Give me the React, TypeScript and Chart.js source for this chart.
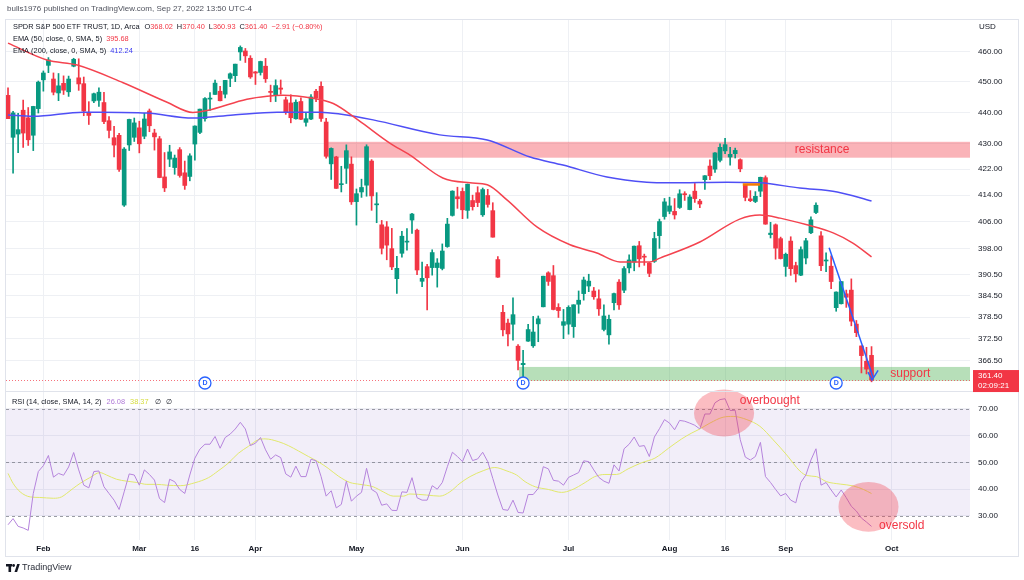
import React, { useEffect, useRef } from 'react';
import { Chart, registerables } from 'chart.js';
Chart.register(...registerables);

// ---- data (SPY daily, Jan 21 – Sep 27, 2022; index = trading-day number) ----
const DATES = [
  'Jan21','Jan24','Jan25','Jan26','Jan27','Jan28','Jan31','Feb1','Feb2','Feb3','Feb4','Feb7','Feb8','Feb9','Feb10','Feb11','Feb14','Feb15','Feb16','Feb17','Feb18','Feb22','Feb23','Feb24','Feb25','Feb28',
  'Mar1','Mar2','Mar3','Mar4','Mar7','Mar8','Mar9','Mar10','Mar11','Mar14','Mar15','Mar16','Mar17','Mar18','Mar21','Mar22','Mar23','Mar24','Mar25','Mar28','Mar29','Mar30','Mar31',
  'Apr1','Apr4','Apr5','Apr6','Apr7','Apr8','Apr11','Apr12','Apr13','Apr14','Apr18','Apr19','Apr20','Apr21','Apr22','Apr25','Apr26','Apr27','Apr28','Apr29',
  'May2','May3','May4','May5','May6','May9','May10','May11','May12','May13','May16','May17','May18','May19','May20','May23','May24','May25','May26','May27','May31',
  'Jun1','Jun2','Jun3','Jun6','Jun7','Jun8','Jun9','Jun10','Jun13','Jun14','Jun15','Jun16','Jun17','Jun21','Jun22','Jun23','Jun24','Jun27','Jun28','Jun29','Jun30',
  'Jul1','Jul5','Jul6','Jul7','Jul8','Jul11','Jul12','Jul13','Jul14','Jul15','Jul18','Jul19','Jul20','Jul21','Jul22','Jul25','Jul26','Jul27','Jul28','Jul29',
  'Aug1','Aug2','Aug3','Aug4','Aug5','Aug8','Aug9','Aug10','Aug11','Aug12','Aug15','Aug16','Aug17','Aug18','Aug19','Aug22','Aug23','Aug24','Aug25','Aug26','Aug29','Aug30','Aug31',
  'Sep1','Sep2','Sep6','Sep7','Sep8','Sep9','Sep12','Sep13','Sep14','Sep15','Sep16','Sep19','Sep20','Sep21','Sep22','Sep23','Sep26','Sep27'
];
const OPEN = [
  445.56,432.03,433.06,440.72,438.26,432.68,441.24,450.68,455.50,450.95,446.35,449.51,446.73,455.22,451.34,449.41,439.92,443.73,443.93,443.22,437.33,431.89,432.66,411.02,429.61,432.03,
  435.04,432.37,440.47,433.40,431.55,419.62,425.14,422.52,428.12,420.89,419.77,429.89,433.59,438.00,444.34,445.86,446.91,445.94,451.16,452.06,460.02,460.34,457.89,
  453.31,453.13,455.22,446.89,445.59,447.97,444.11,443.08,437.96,443.55,436.81,437.86,446.92,448.54,436.91,423.67,425.83,417.24,422.29,423.59,
  412.07,415.01,417.08,424.55,411.10,405.10,404.49,398.07,389.37,396.71,399.98,406.53,403.50,388.62,392.83,392.56,392.56,392.31,398.67,407.91,413.55,
  415.17,409.42,412.40,414.78,408.10,413.93,409.34,394.88,379.85,376.85,376.54,370.51,365.51,371.89,370.62,376.64,381.40,391.05,390.23,381.23,376.24,
  376.56,375.88,382.11,385.12,387.27,385.85,383.65,375.10,373.61,382.55,388.38,386.08,392.47,394.16,398.92,395.75,393.84,394.36,401.89,407.58,
  409.15,409.12,410.30,414.37,409.66,415.25,412.22,418.78,422.99,422.03,424.77,427.73,425.80,426.86,424.98,417.05,412.90,412.11,415.24,419.39,402.20,405.11,401.00,
  392.89,400.28,393.13,390.37,395.33,402.74,408.78,401.83,394.47,392.96,381.16,382.26,385.06,386.11,376.58,370.58,366.41,368.02
];
const HIGH = [
  448.06,440.38,439.72,444.04,441.59,442.00,450.28,453.63,458.12,452.97,452.78,451.99,451.92,457.88,457.71,451.61,443.50,446.28,448.06,446.57,438.66,435.50,433.26,428.76,437.84,438.20,
  437.17,439.72,441.11,434.60,432.30,427.21,429.51,426.43,428.77,424.55,426.84,435.68,441.07,444.86,446.46,450.58,448.49,450.50,452.98,455.91,462.07,461.20,458.76,
  453.46,456.91,457.83,448.93,450.69,450.63,445.00,445.75,444.11,444.73,439.75,445.80,447.57,450.01,438.08,428.69,426.04,422.92,429.64,425.87,
  415.92,418.93,429.66,425.00,414.80,406.41,406.08,404.04,395.80,403.18,403.97,408.57,403.80,394.14,393.51,397.73,395.15,399.45,407.04,415.38,416.46,
  416.24,417.44,414.04,416.61,416.22,415.82,411.74,395.78,381.81,377.94,383.90,370.94,369.38,376.53,378.72,378.83,390.09,391.36,393.16,382.27,380.66,
  381.70,381.98,385.87,389.83,390.64,386.87,386.16,381.92,379.05,385.25,389.09,392.87,396.26,398.84,400.18,396.47,394.06,402.88,406.80,413.03,
  413.41,413.00,415.68,415.09,414.15,417.62,412.75,420.00,424.95,427.21,429.97,431.73,428.82,428.61,425.26,417.10,415.42,415.11,419.56,419.96,405.84,405.37,401.46,
  396.78,401.56,394.12,398.59,401.07,407.51,411.73,403.10,396.83,395.96,385.62,388.55,386.12,389.31,377.58,370.62,370.21,370.40
];
const LOW = [
  437.95,420.76,427.15,428.86,429.45,427.82,439.81,446.94,453.05,445.71,443.83,445.85,445.22,455.01,447.20,438.94,436.12,443.18,441.94,436.42,431.82,425.86,421.35,410.64,427.86,430.70,
  427.11,431.57,433.80,427.98,419.36,415.12,422.82,420.44,419.53,415.79,418.42,424.80,433.19,437.22,440.68,445.86,443.71,444.76,448.43,450.06,457.18,456.47,451.16,
  449.14,452.26,449.82,443.47,443.53,445.94,439.39,436.65,437.84,437.68,435.61,437.68,443.48,437.10,425.44,418.84,416.07,415.01,417.60,411.21,
  405.02,413.36,413.71,409.44,405.73,396.50,394.82,391.96,385.15,395.61,397.60,402.58,390.55,387.11,380.54,390.38,386.96,391.89,398.45,407.70,410.03,
  406.93,407.04,409.51,410.55,407.61,410.38,401.44,389.75,373.30,370.59,372.12,364.08,362.17,371.81,370.18,371.73,381.37,387.44,380.53,378.42,372.56,
  373.80,372.90,379.60,383.27,385.66,383.50,378.99,374.66,371.04,380.54,380.66,385.39,391.03,391.63,392.75,393.21,389.95,394.05,398.15,406.77,
  408.40,406.82,410.00,412.44,409.60,411.83,410.22,415.81,418.78,421.03,424.27,426.87,423.25,425.50,421.22,412.31,412.06,411.77,413.60,405.25,401.20,394.99,395.04,
  390.04,390.33,388.42,390.20,393.59,402.46,408.46,391.67,391.41,386.54,380.15,382.18,381.24,376.10,373.11,363.29,363.03,360.93
];
const CLOSE = [
  437.98,439.84,434.47,433.38,431.24,441.95,449.91,452.95,457.35,446.60,448.70,447.26,450.94,457.54,449.32,440.46,439.02,446.10,446.60,437.06,434.23,429.57,421.95,428.30,437.75,436.63,
  429.98,437.89,435.71,432.17,419.43,416.25,427.41,425.48,420.07,417.00,426.17,435.62,441.07,444.52,444.39,449.59,443.80,450.49,452.69,455.91,461.55,458.70,451.64,
  452.92,456.80,451.03,446.52,448.77,447.57,439.92,438.29,443.31,437.79,437.97,445.04,444.71,438.06,426.04,428.51,416.10,417.27,427.81,412.00,
  414.48,416.38,429.06,413.81,411.34,398.17,399.09,392.75,392.34,401.72,400.09,408.32,391.86,389.46,389.63,396.92,393.89,397.37,405.31,415.26,412.93,
  409.59,417.39,410.54,411.79,415.74,411.22,401.44,389.80,375.00,373.87,379.20,366.65,365.86,375.07,374.39,378.06,390.08,388.59,380.65,380.34,377.25,
  381.24,381.96,383.25,388.99,388.67,384.23,380.83,378.83,377.91,385.13,381.95,392.27,394.77,398.79,395.09,395.57,390.89,401.04,406.07,411.99,
  410.77,408.06,414.45,414.17,413.47,412.99,411.35,419.99,419.99,427.10,428.86,429.70,426.65,427.89,422.14,413.35,412.35,413.67,419.51,405.31,402.63,398.21,395.18,
  396.42,392.24,390.76,397.78,400.38,406.60,410.97,393.10,394.69,388.55,385.56,388.55,384.09,377.39,374.22,367.95,364.31,361.40
];
// EMA lines at sample bars
const EMA50_IDX = [0,7.7,13.7,22.8,31.5,36.6,39.4,47.3,51.3,54.5,60.4,64.4,69.3,75.6,79.6,86.1,91.5,94.9,98.8,104.8,111.3,116.6,121.2,127.1,129.1,137,144.9,148.9,152.9,158.2,163.4,167.3,171];
const EMA50_VAL = [463.0,457.3,455.6,449.7,443.3,440.0,440.6,444.3,445.3,445.6,444.6,442.9,437.6,430.2,426.4,419.3,417.8,417.2,412.6,404.4,399.2,396.8,394.2,394.2,395.3,400.0,406.8,408.0,407.1,405.1,402.7,399.7,395.68];
const EMA200_IDX = [0,5,14.9,18.2,27.5,36.6,44.6,53.3,61.8,65.7,72.3,85.5,94.9,103.4,109.9,118.6,126.5,131.1,142.4,148.9,156.8,164.2,171];
const EMA200_VAL = [439.2,438.8,440.1,440.1,439.8,438.2,439.2,440.1,440.1,439.5,437.6,432.8,431.2,425.8,423.3,419.6,418.0,417.8,418.0,417.8,416.2,415.0,412.24];
// RSI (14) per bar
const RSI = [
  26.7,29.0,26.1,25.5,24.6,38.4,46.6,48.8,52.6,44.5,45.9,45.2,48.3,53.7,47.2,41.5,40.5,46.6,46.8,40.9,38.4,35.9,32.4,39.0,45.7,45.3,
  41.5,47.2,45.5,43.4,36.5,35.0,43.7,42.8,39.9,38.4,45.3,51.6,55.0,56.8,56.8,59.7,55.3,59.3,60.6,62.5,65.0,62.5,56.3,
  57.2,59.3,54.7,51.2,52.8,51.8,45.7,44.5,48.6,44.7,44.7,51.2,50.6,44.7,37.4,39.4,33.0,34.3,43.0,35.5,
  37.4,38.8,47.8,39.9,38.7,34.0,34.5,32.1,32.0,39.0,38.8,44.3,36.8,35.9,35.9,41.3,40.0,42.5,48.4,53.8,52.2,
  50.3,55.0,50.7,51.3,53.8,50.3,44.0,37.8,32.4,32.1,35.9,31.3,31.1,38.0,38.0,40.3,48.4,47.6,43.3,43.0,41.5,
  44.4,45.3,46.2,50.6,50.3,47.2,44.4,43.0,42.2,49.1,46.8,55.1,56.8,59.5,56.0,56.3,52.2,59.5,62.6,66.0,
  64.7,62.2,65.7,65.4,64.7,63.9,62.5,68.1,68.1,72.3,73.5,73.8,69.4,69.5,58.5,52.0,50.9,52.2,57.5,44.7,42.5,39.9,37.5,
  38.4,35.9,34.9,42.5,45.3,50.9,55.1,41.5,42.5,39.7,37.1,39.7,36.8,33.6,31.8,29.2,27.7,26.08
];
// RSI-based SMA at sample bars
const RSI_MA_IDX = [0,1,2.4,4.4,6.3,9,10.6,11.6,12.9,14.3,16.2,18.2,19.5,21.5,23.5,25.5,27.5,29.4,31.4,34.1,37,39.7,41.6,43.6,45.6,47.6,49.6,50.9,53.5,55.5,57.5,59.5,61.4,63.4,65.4,67.7,69.7,72.3,74.3,76.3,78.3,79.6,82.9,85.5,87.5,89.5,91.5,94.1,96.4,98.8,100.7,102.4,104.4,107,109.6,111.6,114.3,116.2,118.2,120.5,122.8,125.5,128.1,130.8,133.4,135.4,137,139,141.6,143.6,146.3,148.9,151.5,154.2,156.8,158.2,160.1,162.1,164.8,167.4,169.4,171];
const RSI_MA_VAL = [45.9,42.2,39.0,37.1,36.9,36.6,37.1,38.4,40.3,42.2,44.3,46.2,45.3,43.7,43.0,42.5,41.8,41.8,41.5,41.3,42.4,44.3,46.8,49.7,53.4,56.0,58.5,58.8,57.8,56.3,54.3,52.2,50.3,47.8,44.9,42.5,41.8,40.9,39.0,37.4,37.4,38.2,37.8,37.4,39.0,42.2,44.7,46.9,48.1,46.8,45.3,42.8,40.9,39.9,38.8,39.7,42.5,44.7,45.5,45.5,47.6,49.9,51.6,55.3,58.8,61.0,62.5,64.7,66.9,67.2,66.0,63.5,58.5,52.8,46.8,45.1,44.7,42.8,41.9,41.2,39.9,38.37];

const PRICE_TICKS = [460, 450, 440, 430, 422, 414, 406, 398, 390.5, 384.5, 378.5, 372.5, 366.5];
const RSI_TICKS = [70, 60, 50, 40, 30];
const X_TICK_POS = [7, 26, 37, 49, 69, 90, 111, 131, 142, 154, 175];
const X_TICK_LABELS = ['Feb', 'Mar', '16', 'Apr', 'May', 'Jun', 'Jul', 'Aug', '16', 'Sep', 'Oct'];
const DIVIDEND_IDX = [39, 102, 164];
const RESISTANCE = { from: 63.3, low: 425.6, high: 430.6, labelAt: 155.8 };
const SUPPORT = { from: 101.2, low: 361.2, high: 364.9, labelAt: 174.7 };
const TREND = [[162.6, 398.3], [171.3, 362.2]];
const CHECK = [[170.3, 363.5], [171.1, 361.4], [172.3, 364.0]];
const ORANGE = { from: 145.5, to: 148.9, price: 417.3 };
const OB = { idx: 141.8, rsi: 68.5, rx: 5.95, ry: 8.8, labelIdx: 144.9, labelRsi: 73.0 };
const OS = { idx: 170.4, rsi: 33.4, rx: 5.95, ry: 9.3, labelIdx: 172.5, labelRsi: 26.3 };
const LAST = 361.40;

const UP = '#089981';
const DOWN = '#f23645';
const GRID = '#eef0f4';
const TXT = '#131722';
const FONT = "'Liberation Sans', Arial, sans-serif";

function segs(ctx: CanvasRenderingContext2D, x: number, y: number, parts: [string, string, number?][]) {
  let cx = x;
  for (const [t, c, gap] of parts) {
    ctx.fillStyle = c;
    ctx.fillText(t, cx, y);
    cx += ctx.measureText(t).width + (gap ?? 0);
  }
}

const overlay = {
  id: 'overlay',
  beforeDatasetsDraw(chart: any) {
    const { ctx, chartArea: ca, scales } = chart;
    const x = scales.x, y = scales.y, r = scales.y2;
    ctx.save();
    const y70 = r.getPixelForValue(70), y30 = r.getPixelForValue(30);
    ctx.fillStyle = 'rgba(126,87,194,0.1)';
    ctx.fillRect(ca.left, y70, ca.right - ca.left, y30 - y70);
    ctx.setLineDash([3, 3]);
    ctx.strokeStyle = 'rgba(120,123,134,0.75)';
    ctx.lineWidth = 1;
    for (const v of [70, 50, 30]) {
      const py = Math.round(r.getPixelForValue(v)) + 0.5;
      ctx.beginPath(); ctx.moveTo(ca.left, py); ctx.lineTo(ca.right, py); ctx.stroke();
    }
    ctx.setLineDash([]);
    const rx0 = x.getPixelForValue(RESISTANCE.from);
    const rt = y.getPixelForValue(RESISTANCE.high), rb = y.getPixelForValue(RESISTANCE.low);
    ctx.fillStyle = 'rgba(242,54,69,0.38)';
    ctx.fillRect(rx0, rt, ca.right - rx0, rb - rt);
    const sx0 = x.getPixelForValue(SUPPORT.from);
    const st = y.getPixelForValue(SUPPORT.high), sb = y.getPixelForValue(SUPPORT.low);
    ctx.fillStyle = 'rgba(76,175,80,0.4)';
    ctx.fillRect(sx0, st, ca.right - sx0, sb - st);
    const ly = Math.round(y.getPixelForValue(LAST)) + 0.5;
    ctx.setLineDash([1, 2]);
    ctx.strokeStyle = 'rgba(242,54,69,0.7)';
    ctx.beginPath(); ctx.moveTo(ca.left, ly); ctx.lineTo(ca.right, ly); ctx.stroke();
    ctx.setLineDash([]);
    ctx.restore();
  },
  afterDatasetsDraw(chart: any) {
    const { ctx, scales } = chart;
    const x = scales.x, y = scales.y, r = scales.y2;
    ctx.save();
    ctx.strokeStyle = '#f57c00';
    ctx.lineWidth = 2.5;
    ctx.beginPath();
    ctx.moveTo(x.getPixelForValue(ORANGE.from), y.getPixelForValue(ORANGE.price));
    ctx.lineTo(x.getPixelForValue(ORANGE.to), y.getPixelForValue(ORANGE.price));
    ctx.stroke();
    ctx.strokeStyle = '#2962ff';
    ctx.lineWidth = 1.5;
    ctx.beginPath();
    ctx.moveTo(x.getPixelForValue(TREND[0][0]), y.getPixelForValue(TREND[0][1]));
    ctx.lineTo(x.getPixelForValue(TREND[1][0]), y.getPixelForValue(TREND[1][1]));
    ctx.stroke();
    ctx.beginPath();
    CHECK.forEach(([i, p], k) => {
      const px = x.getPixelForValue(i), py = y.getPixelForValue(p);
      if (k === 0) ctx.moveTo(px, py); else ctx.lineTo(px, py);
    });
    ctx.stroke();
    for (const e of [OB, OS]) {
      const cx = x.getPixelForValue(e.idx), cy = r.getPixelForValue(e.rsi);
      const rxp = x.getPixelForValue(e.idx + e.rx) - cx;
      const ryp = cy - r.getPixelForValue(e.rsi + e.ry);
      ctx.fillStyle = 'rgba(242,54,69,0.33)';
      ctx.beginPath(); ctx.ellipse(cx, cy, rxp, ryp, 0, 0, Math.PI * 2); ctx.fill();
    }
    ctx.font = `12px ${FONT}`;
    ctx.textBaseline = 'middle';
    ctx.fillStyle = DOWN;
    ctx.fillText('resistance', x.getPixelForValue(RESISTANCE.labelAt), y.getPixelForValue((RESISTANCE.low + RESISTANCE.high) / 2));
    ctx.fillText('support', x.getPixelForValue(SUPPORT.labelAt), y.getPixelForValue((SUPPORT.low + SUPPORT.high) / 2));
    ctx.fillText('overbought', x.getPixelForValue(OB.labelIdx), r.getPixelForValue(OB.labelRsi));
    ctx.fillText('oversold', x.getPixelForValue(OS.labelIdx), r.getPixelForValue(OS.labelRsi));
    for (const d of DIVIDEND_IDX) {
      const px = x.getPixelForValue(d), py = y.bottom - 8;
      ctx.fillStyle = '#fff';
      ctx.strokeStyle = '#2962ff';
      ctx.lineWidth = 1.3;
      ctx.beginPath(); ctx.arc(px, py, 6, 0, Math.PI * 2); ctx.fill(); ctx.stroke();
      ctx.fillStyle = '#2962ff';
      ctx.font = `bold 7px ${FONT}`;
      ctx.textAlign = 'center';
      ctx.fillText('D', px, py + 0.5);
      ctx.textAlign = 'left';
    }
    ctx.restore();
  },
  afterDraw(chart: any) {
    const { ctx, chartArea: ca, scales, width } = chart;
    const y = scales.y, r = scales.y2;
    ctx.save();
    ctx.strokeStyle = '#e0e3eb';
    ctx.lineWidth = 1;
    ctx.strokeRect(5.5, 19.5, width - 11, 537);
    const sep = Math.round(y.bottom) + 0.5;
    ctx.beginPath(); ctx.moveTo(5, sep); ctx.lineTo(width - 5, sep); ctx.stroke();
    ctx.textBaseline = 'middle';
    ctx.font = `8px ${FONT}`;
    ctx.fillStyle = '#50535e';
    ctx.fillText('bulls1976 published on TradingView.com, Sep 27, 2022 13:50 UTC-4', 7, 9);
    ctx.font = `7.4px ${FONT}`;
    segs(ctx, 13, 27, [
      ['SPDR S&P 500 ETF TRUST, 1D, Arca', TXT, 5],
      ['O', TXT], ['368.02', DOWN, 4],
      ['H', TXT], ['370.40', DOWN, 4],
      ['L', TXT], ['360.93', DOWN, 4],
      ['C', TXT], ['361.40', DOWN, 4],
      ['\u22122.91 (\u22120.80%)', DOWN]
    ]);
    segs(ctx, 13, 39, [['EMA (50, close, 0, SMA, 5)', TXT, 4], ['395.68', DOWN]]);
    segs(ctx, 13, 51, [['EMA (200, close, 0, SMA, 5)', TXT, 4], ['412.24', '#3b3bf0']]);
    segs(ctx, 12, r.top + 11, [
      ['RSI (14, close, SMA, 14, 2)', TXT, 5],
      ['26.08', '#b07ad8', 5],
      ['38.37', '#d6dc3c', 6],
      ['\u2205', TXT, 5], ['\u2205', TXT]
    ]);
    ctx.font = `8px ${FONT}`;
    ctx.fillStyle = TXT;
    ctx.fillText('USD', ca.right + 9, 27);
    const ly = y.getPixelForValue(LAST);
    ctx.fillStyle = DOWN;
    ctx.fillRect(ca.right + 3, ly - 10, 46, 22);
    ctx.fillStyle = '#fff';
    ctx.fillText('361.40', ca.right + 8, ly - 4);
    ctx.fillText('02:09:21', ca.right + 8, ly + 6);
    ctx.fillStyle = TXT;
    ctx.fillRect(6, 564, 6, 2.5);
    ctx.fillRect(8.5, 564, 2.6, 8);
    ctx.beginPath(); ctx.arc(13.6, 565.5, 1.4, 0, Math.PI * 2); ctx.fill();
    ctx.beginPath(); ctx.moveTo(14.5, 572); ctx.lineTo(17.2, 564); ctx.lineTo(19.8, 564); ctx.lineTo(17.1, 572); ctx.closePath(); ctx.fill();
    ctx.font = `9px ${FONT}`;
    ctx.fillStyle = '#2a2e39';
    ctx.fillText('TradingView', 22, 568);
    ctx.restore();
  }
};

export default function App() {
  const ref = useRef<HTMLCanvasElement>(null);
  useEffect(() => {
    const canvas = ref.current as HTMLCanvasElement;
    const colors = OPEN.map((o, i) => (CLOSE[i] >= o ? UP : DOWN));
    const axisFont = { size: 8, family: FONT };
    const chart = new Chart(canvas, {
      type: 'bar',
      data: {
        datasets: [
          { type: 'line', label: 'EMA 50', data: EMA50_IDX.map((v, i) => ({ x: v, y: EMA50_VAL[i] })), yAxisID: 'y', borderColor: '#f4434f', borderWidth: 1.5, pointRadius: 0, cubicInterpolationMode: 'monotone' } as any,
          { type: 'line', label: 'EMA 200', data: EMA200_IDX.map((v, i) => ({ x: v, y: EMA200_VAL[i] })), yAxisID: 'y', borderColor: '#4f4ff5', borderWidth: 1.5, pointRadius: 0, cubicInterpolationMode: 'monotone' } as any,
          { type: 'line', label: 'RSI', data: RSI.map((v, i) => ({ x: i, y: v })), yAxisID: 'y2', borderColor: '#b584dc', borderWidth: 1, pointRadius: 0, tension: 0 } as any,
          { type: 'line', label: 'RSI MA', data: RSI_MA_IDX.map((v, i) => ({ x: v, y: RSI_MA_VAL[i] })), yAxisID: 'y2', borderColor: '#e1e86c', borderWidth: 1, pointRadius: 0, cubicInterpolationMode: 'monotone' } as any,
          { type: 'bar', label: 'body', data: CLOSE.map((c, i) => ({ x: i, y: [OPEN[i], c] })), yAxisID: 'y', backgroundColor: colors, barThickness: 4, grouped: false, minBarLength: 1 } as any,
          { type: 'bar', label: 'wick', data: HIGH.map((h, i) => ({ x: i, y: [LOW[i], h] })), yAxisID: 'y', backgroundColor: colors, barThickness: 1, grouped: false } as any
        ]
      },
      options: {
        responsive: false,
        animation: false,
        devicePixelRatio: 1,
        events: [],
        layout: { padding: { top: 20, left: 6, right: 4, bottom: 24 } },
        plugins: { legend: { display: false }, tooltip: { enabled: false } },
        scales: {
          x: {
            type: 'linear', position: 'bottom', min: -0.4, max: 190.5, offset: false,
            afterBuildTicks: (s: any) => { s.ticks = X_TICK_POS.map(v => ({ value: v })); },
            afterFit: (s: any) => { s.height = 16; },
            ticks: { autoSkip: false, maxRotation: 0, minRotation: 0, padding: 4, color: TXT, font: { ...axisFont, weight: 'bold' },
              callback: (v: any) => X_TICK_LABELS[X_TICK_POS.indexOf(Number(v))] ?? '' },
            grid: { color: GRID, drawTicks: false, offset: false },
            border: { display: false }
          },
          y: {
            type: 'logarithmic', position: 'right', stack: 'panes', stackWeight: 371, min: 358.5, max: 470.95, beginAtZero: false,
            afterBuildTicks: (s: any) => { s.ticks = PRICE_TICKS.map(v => ({ value: v })); },
            afterFit: (s: any) => { s.width = 50; },
            ticks: { autoSkip: false, padding: 8, color: TXT, font: axisFont, callback: (v: any) => Number(v).toFixed(2) },
            grid: { color: GRID, drawTicks: false },
            border: { display: false }
          },
          y2: {
            type: 'linear', position: 'right', stack: 'panes', stackWeight: 149, min: 21.0, max: 76.7,
            afterBuildTicks: (s: any) => { s.ticks = RSI_TICKS.map(v => ({ value: v })); },
            afterFit: (s: any) => { s.width = 50; },
            ticks: { autoSkip: false, padding: 8, color: TXT, font: axisFont, callback: (v: any) => Number(v).toFixed(2) },
            grid: { color: GRID, drawTicks: false },
            border: { display: false }
          }
        }
      } as any,
      plugins: [overlay]
    });
    return () => chart.destroy();
  }, []);
  return (
    <div style={{ position: 'fixed', left: 0, top: 0, width: 1024, height: 580, background: '#fff' }}>
      <canvas ref={ref} width={1024} height={580} style={{ display: 'block' }} data-dates={DATES.length} />
    </div>
  );
}
